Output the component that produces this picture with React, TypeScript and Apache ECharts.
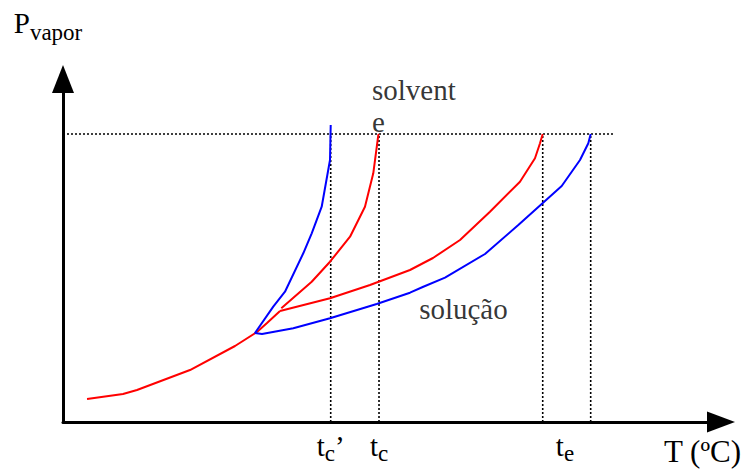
import React, { useEffect, useRef } from "react";
import * as echarts from "echarts";

// Solvent (red) curves: temperature / vapour pressure (arbitrary units)
const redSublimationT = [3.73, 9.32, 11.49, 19.72, 26.71, 30.12, 31.68, 33.7];
const redSublimationP = [6.99, 8.51, 9.73, 15.8, 23.1, 27.36, 30.09, 33.74];
const redFusionT = [33.9, 38.62, 41.46, 44.57, 46.89, 48.18, 48.96, 49.07];
const redFusionP = [34.6, 42.64, 48.72, 56.32, 65.44, 75.59, 87.23, 87.54];
const redVaporT = [33.7, 41.46, 47.67, 53.88, 57.45, 61.65, 66.3, 70.96, 73.29, 74.07, 74.49];
const redVaporP = [33.74, 37.6, 41.64, 46.2, 49.85, 55.32, 63.92, 73.04, 80.15, 84.71, 87.54];

// Solution (blue) curve: fusion branch down to triple point, then vaporization branch
const blueT = [41.57, 41.46, 40.17, 38.62, 37.31, 34.47, 32.65, 29.81, 30.9, 35.76, 41.46, 48.71, 53.88, 55.95, 59.32, 65.53, 70.7, 77.44, 80.28, 81.57, 81.94];
const blueP = [90.27, 79.64, 65.44, 57.36, 51.28, 39.6, 35.05, 27.05, 26.75, 28.48, 31.52, 35.87, 39.3, 41.12, 43.86, 51.06, 59.88, 71.73, 79.64, 84.71, 87.54];

// Reference lines
const refPressure = 87.54;
const refLineEnd = 85.7;
const markerTemps = [41.57, 49.07, 74.49, 81.94];

// Tick labels on the T axis
const tickValues = [41.57, 49.07, 77.95];
const tickTexts = ["{t|t}{s|c}{t|’}", "{t|t}{s|c}", "{t|t}{s|e}"];

// Annotations
const noteTexts = ["solvent\ne", "solução"];
const notePositions = [
  [47.98, 96.0],
  [55.3, 34.3],
];

const FONT = "'Liberation Serif', 'Times New Roman', serif";

const zip = (xs: number[], ys: number[]) => xs.map((x, i) => [x, ys[i]]);

export default function App() {
  const ref = useRef<HTMLDivElement>(null);
  useEffect(() => {
    if (!ref.current) return;
    const chart = echarts.init(ref.current, null, { renderer: "svg" });
    const dotted = { color: "#000", width: 1.6, type: [2, 2] as number[] };
    const dottedSeries: any[] = [
      {
        type: "line",
        data: [
          [0, refPressure],
          [refLineEnd, refPressure],
        ],
        symbol: "none",
        lineStyle: dotted,
        z: 1,
        silent: true,
      },
      ...markerTemps.map((t) => ({
        type: "line",
        data: [
          [t, 0],
          [t, refPressure],
        ],
        symbol: "none",
        lineStyle: dotted,
        z: 1,
        silent: true,
      })),
    ];
    const curve = (data: number[][], color: string) => ({
      type: "line",
      data,
      symbol: "none",
      lineStyle: { color, width: 2 },
      z: 3,
      silent: true,
    });
    chart.setOption({
      animation: false,
      backgroundColor: "#fff",
      textStyle: { fontFamily: FONT },
      grid: {
        left: 63,
        right: 35,
        top: 93,
        bottom: 48,
        containLabel: false,
        outerBoundsMode: "none",
      },
      xAxis: {
        type: "value",
        min: 0,
        max: 100,
        name: "T (ºC)",
        nameLocation: "end",
        nameGap: 34,
        nameTextStyle: {
          fontFamily: FONT,
          fontSize: 31,
          lineHeight: 31,
          color: "#000",
          align: "right",
          verticalAlign: "top",
          padding: [14, 0, 0, 0],
        },
        axisLine: {
          show: true,
          onZero: false,
          lineStyle: { color: "#000", width: 3 },
          symbol: ["none", "triangle"],
          symbolSize: [21, 28],
          symbolOffset: [0, 14],
        },
        axisTick: { show: false },
        splitLine: { show: false },
        axisLabel: {
          show: true,
          customValues: tickValues,
          margin: 14,
          color: "#000",
          formatter: (v: number) => {
            const i = tickValues.findIndex((x) => Math.abs(x - v) < 1e-6);
            return i >= 0 ? tickTexts[i] : "";
          },
          rich: {
            t: { fontFamily: FONT, fontSize: 29, lineHeight: 29, padding: [0, 0, 5, 0], verticalAlign: "bottom", color: "#000" },
            s: { fontFamily: FONT, fontSize: 23, lineHeight: 23, verticalAlign: "bottom", color: "#000" },
          },
        },
      },
      yAxis: {
        type: "value",
        min: 0,
        max: 100,
        name: "{p|P}{s|vapor}",
        nameLocation: "end",
        nameGap: 49,
        nameTextStyle: {
          align: "center",
          verticalAlign: "bottom",
          padding: [0, 30, 0, 0],
          rich: {
            p: { fontFamily: FONT, fontSize: 29, lineHeight: 29, padding: [0, 0, 7, 0], verticalAlign: "bottom", color: "#000" },
            s: { fontFamily: FONT, fontSize: 23, lineHeight: 23, verticalAlign: "bottom", color: "#000" },
          },
        },
        axisLine: {
          show: true,
          onZero: false,
          lineStyle: { color: "#000", width: 3 },
          symbol: ["none", "triangle"],
          symbolSize: [22, 28],
          symbolOffset: [0, 14],
        },
        axisTick: { show: false },
        axisLabel: { show: false },
        splitLine: { show: false },
      },
      series: [
        ...dottedSeries,
        curve(zip(redSublimationT, redSublimationP), "#ff0000"),
        curve(zip(redFusionT, redFusionP), "#ff0000"),
        curve(zip(redVaporT, redVaporP), "#ff0000"),
        curve(zip(blueT, blueP), "#0000ff"),
        {
          type: "scatter",
          data: notePositions.map((p, i) => ({ value: p, name: noteTexts[i] })),
          symbolSize: 0,
          clip: false,
          silent: true,
          z: 5,
          label: {
            show: true,
            position: [0, 0],
            align: "left",
            verticalAlign: "middle",
            formatter: (p: any) => p.name,
            fontFamily: FONT,
            fontSize: 29,
            lineHeight: 32,
            color: "#000",
          },
        },
      ],
    });
    return () => chart.dispose();
  }, []);
  return (
    <div
      ref={ref}
      style={{ position: "fixed", left: 0, top: 0, width: 742, height: 470, background: "#fff" }}
    />
  );
}
